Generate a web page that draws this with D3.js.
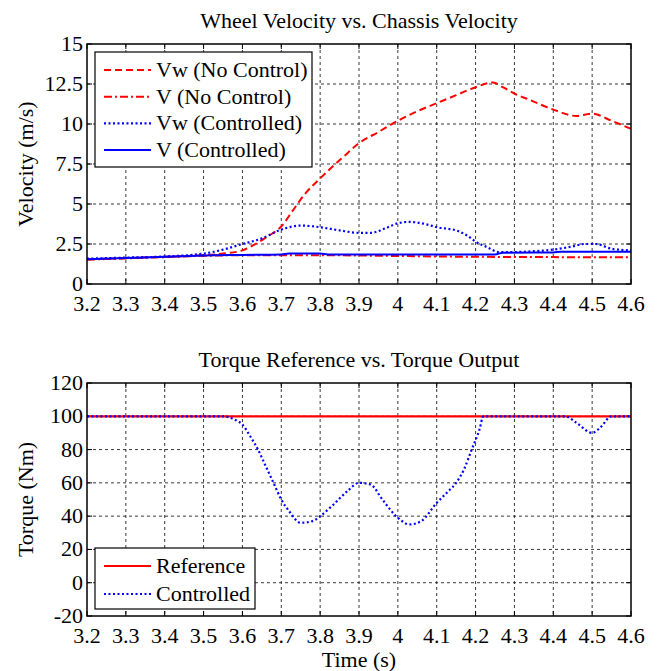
<!DOCTYPE html>
<html>
<head>
<meta charset="utf-8">
<script src="https://cdn.jsdelivr.net/npm/d3@7"></script>
<style>
  body { margin: 0; background: #fff; }
</style>
</head>
<body>
<script>
// ---- data ----
var timeTicks = [3.2, 3.3, 3.4, 3.5, 3.6, 3.7, 3.8, 3.9, 4.0, 4.1, 4.2, 4.3, 4.4, 4.5, 4.6];
var velTicks = [0, 2.5, 5, 7.5, 10, 12.5, 15];
var torqueTicks = [-20, 0, 20, 40, 60, 80, 100, 120];

// Vw (No Control)
var tVwNc = [3.2, 3.3, 3.4, 3.5, 3.55, 3.6, 3.63, 3.66, 3.7, 3.73, 3.76, 3.8, 3.83, 3.86, 3.9, 3.95, 4.0, 4.05, 4.1, 4.15, 4.2, 4.245, 4.27, 4.3, 4.34, 4.4, 4.46, 4.5, 4.55, 4.6];
var vwNc = [1.55, 1.62, 1.7, 1.8, 1.9, 2.1, 2.45, 2.9, 3.6, 4.6, 5.6, 6.6, 7.3, 7.95, 8.8, 9.5, 10.2, 10.8, 11.3, 11.8, 12.3, 12.6, 12.3, 11.9, 11.5, 10.9, 10.5, 10.65, 10.2, 9.7];
// V (No Control)
var tVNc = [3.2, 3.3, 3.4, 3.5, 3.6, 3.7, 3.8, 3.9, 4.0, 4.1, 4.2, 4.3, 4.4, 4.6];
var vNc = [1.52, 1.6, 1.68, 1.76, 1.8, 1.8, 1.8, 1.78, 1.75, 1.72, 1.7, 1.69, 1.68, 1.67];
// Vw (Controlled)
var tVwC = [3.2, 3.3, 3.4, 3.5, 3.55, 3.6, 3.65, 3.7, 3.75, 3.8, 3.85, 3.9, 3.93, 3.97, 4.0, 4.03, 4.07, 4.1, 4.15, 4.18, 4.2, 4.23, 4.26, 4.3, 4.35, 4.4, 4.45, 4.48, 4.51, 4.55, 4.6];
var vwC = [1.58, 1.65, 1.72, 1.9, 2.15, 2.5, 2.85, 3.4, 3.65, 3.55, 3.35, 3.2, 3.2, 3.5, 3.8, 3.88, 3.75, 3.55, 3.35, 3.0, 2.65, 2.3, 2.0, 2.0, 2.05, 2.15, 2.35, 2.5, 2.5, 2.2, 2.1];
// V (Controlled)
var tVC = [3.2, 3.3, 3.4, 3.5, 3.6, 3.7, 3.72, 3.8, 3.82, 4.25, 4.27, 4.4, 4.42, 4.6];
var vC = [1.55, 1.62, 1.7, 1.78, 1.82, 1.85, 1.9, 1.9, 1.85, 1.85, 1.95, 1.97, 2.02, 2.02];

// Torque
var tRef = [3.2, 4.6];
var torqueRef = [100, 100];
var tTq = [3.2, 3.55, 3.58, 3.6, 3.62, 3.64, 3.66, 3.68, 3.7, 3.72, 3.75, 3.78, 3.8, 3.83, 3.87, 3.9, 3.93, 3.96, 4.0, 4.03, 4.06, 4.1, 4.13, 4.15, 4.17, 4.19, 4.21, 4.22, 4.43, 4.46, 4.5, 4.52, 4.55, 4.6];
var torqueCtrl = [100, 100, 98, 95, 88, 80, 70, 60, 50, 43, 36, 37, 40, 46, 55, 60, 59, 50, 39, 35, 37, 48, 55, 60, 68, 80, 92, 100, 100, 96, 90, 93, 100, 100];

var FONT = "'Liberation Serif', 'Times New Roman', serif";

function zip(xs, ys) { return xs.map(function(x, i){ return [x, ys[i]]; }); }

var width = 661, height = 671;
var svg = d3.select("body").append("svg")
    .attr("width", width)
    .attr("height", height);

var left = 87, right = 631;
var x = d3.scaleLinear().domain([3.2, 4.6]).range([left, right]);

function label(g, size) {
    return g.append("text")
        .attr("font-family", FONT)
        .attr("font-size", size)
        .attr("fill", "#000");
}

// draw one axes box, returns y scale
function panel(cfg) {
    var y = d3.scaleLinear().domain(cfg.domain).range([cfg.bottom, cfg.top]);
    var g = svg.append("g");
    var clipId = "clip" + cfg.id;
    svg.append("clipPath").attr("id", clipId).append("rect")
        .attr("x", left).attr("y", cfg.top)
        .attr("width", right - left).attr("height", cfg.bottom - cfg.top);

    // grid
    g.selectAll(".vg").data(timeTicks.slice(1, -1)).enter().append("line")
        .attr("x1", function(d){ return x(d); }).attr("x2", function(d){ return x(d); })
        .attr("y1", cfg.top).attr("y2", cfg.bottom)
        .attr("stroke", "#222").attr("stroke-width", 0.9).attr("stroke-dasharray", "3,3");
    g.selectAll(".hg").data(cfg.ticks.slice(1, -1)).enter().append("line")
        .attr("x1", left).attr("x2", right)
        .attr("y1", function(d){ return y(d); }).attr("y2", function(d){ return y(d); })
        .attr("stroke", "#222").attr("stroke-width", 0.9).attr("stroke-dasharray", "3,3");

    // inward tick marks on all four sides
    var tl = 5;
    timeTicks.forEach(function(d){
        g.append("line").attr("x1", x(d)).attr("x2", x(d)).attr("y1", cfg.bottom).attr("y2", cfg.bottom - tl).attr("stroke", "#000");
        g.append("line").attr("x1", x(d)).attr("x2", x(d)).attr("y1", cfg.top).attr("y2", cfg.top + tl).attr("stroke", "#000");
    });
    cfg.ticks.forEach(function(d){
        g.append("line").attr("x1", left).attr("x2", left + tl).attr("y1", y(d)).attr("y2", y(d)).attr("stroke", "#000");
        g.append("line").attr("x1", right).attr("x2", right - tl).attr("y1", y(d)).attr("y2", y(d)).attr("stroke", "#000");
    });

    // tick labels
    timeTicks.forEach(function(d){
        label(g, 22).attr("x", x(d)).attr("y", cfg.bottom + 27)
            .attr("text-anchor", "middle").text(d3.format("")(d));
    });
    cfg.ticks.forEach(function(d){
        label(g, 22).attr("x", left - 4).attr("y", y(d) + 7)
            .attr("text-anchor", "end").text(d);
    });

    // lines
    var line = d3.line()
        .x(function(d){ return x(d[0]); })
        .y(function(d){ return y(d[1]); })
        .curve(d3.curveMonotoneX);
    cfg.series.forEach(function(s){
        g.append("path")
            .attr("d", line(s.data))
            .attr("clip-path", "url(#" + clipId + ")")
            .attr("fill", "none")
            .attr("stroke", s.color)
            .attr("stroke-width", s.width)
            .attr("stroke-dasharray", s.dash);
    });

    // frame
    g.append("rect")
        .attr("x", left).attr("y", cfg.top)
        .attr("width", right - left).attr("height", cfg.bottom - cfg.top)
        .attr("fill", "none").attr("stroke", "#000").attr("stroke-width", 1.5);

    // title and y label
    label(g, 22).attr("x", (left + right) / 2).attr("y", cfg.top - 16)
        .attr("text-anchor", "middle").text(cfg.title);
    label(g, 22).attr("transform", "translate(33," + ((cfg.top + cfg.bottom) / 2) + ") rotate(-90)")
        .attr("text-anchor", "middle").text(cfg.ylabel);

    // legend
    var lg = cfg.legend;
    g.append("rect")
        .attr("x", lg.x).attr("y", lg.y)
        .attr("width", lg.w).attr("height", lg.h)
        .attr("fill", "#fff").attr("stroke", "#000").attr("stroke-width", 1.2);
    cfg.series.forEach(function(s, i){
        var yy = lg.y + lg.first + i * lg.step;
        g.append("line")
            .attr("x1", lg.x + 9).attr("x2", lg.x + 56)
            .attr("y1", yy).attr("y2", yy)
            .attr("stroke", s.color).attr("stroke-width", s.width)
            .attr("stroke-dasharray", s.dash);
        label(g, 22).attr("x", lg.x + 61).attr("y", yy + 7).text(s.name);
    });
    return y;
}

panel({
    id: 1, top: 44, bottom: 284, domain: [0, 15], ticks: velTicks,
    title: "Wheel Velocity vs. Chassis Velocity",
    ylabel: "Velocity (m/s)",
    legend: { x: 95, y: 52, w: 217, h: 115, first: 18, step: 26.7 },
    series: [
        { name: "Vw (No Control)", data: zip(tVwNc, vwNc), color: "#ff0000", width: 2, dash: "7,4" },
        { name: "V (No Control)", data: zip(tVNc, vNc), color: "#ff0000", width: 2, dash: "8,3,2,3" },
        { name: "Vw (Controlled)", data: zip(tVwC, vwC), color: "#0000ff", width: 2.2, dash: "2,2.5" },
        { name: "V (Controlled)", data: zip(tVC, vC), color: "#0000ff", width: 2, dash: null }
    ]
});

panel({
    id: 2, top: 383, bottom: 616, domain: [-20, 120], ticks: torqueTicks,
    title: "Torque Reference vs. Torque Output",
    ylabel: "Torque (Nm)",
    legend: { x: 95, y: 548, w: 160, h: 61, first: 18, step: 28 },
    series: [
        { name: "Reference", data: zip(tRef, torqueRef), color: "#ff0000", width: 2.2, dash: null },
        { name: "Controlled", data: zip(tTq, torqueCtrl), color: "#0000ff", width: 2.2, dash: "2,2.5" }
    ]
});

label(svg, 22)
    .attr("x", (left + right) / 2).attr("y", 667)
    .attr("text-anchor", "middle")
    .text("Time (s)");
</script>
</body>
</html>
